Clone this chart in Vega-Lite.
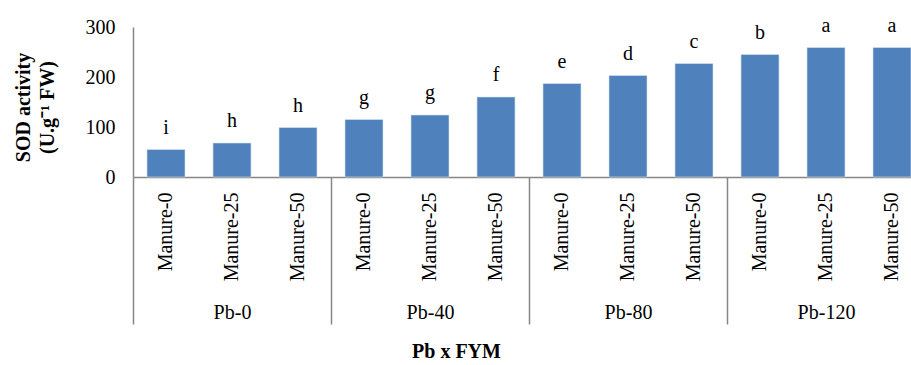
{
  "$schema": "https://vega.github.io/schema/vega-lite/v6.json",
  "width": 778,
  "height": 150,
  "autosize": {"type": "none"},
  "padding": {"left": 133, "top": 27, "right": 0, "bottom": 188},
  "background": "white",
  "config": {"view": {"stroke": null}, "font": "Liberation Serif"},
  "data": {"values": [
    {"pb": "Pb-0", "manure": "Manure-0", "key": "Pb-0|Manure-0", "value": 55, "letter": "i"},
    {"pb": "Pb-0", "manure": "Manure-25", "key": "Pb-0|Manure-25", "value": 68, "letter": "h"},
    {"pb": "Pb-0", "manure": "Manure-50", "key": "Pb-0|Manure-50", "value": 99, "letter": "h"},
    {"pb": "Pb-40", "manure": "Manure-0", "key": "Pb-40|Manure-0", "value": 115, "letter": "g"},
    {"pb": "Pb-40", "manure": "Manure-25", "key": "Pb-40|Manure-25", "value": 124, "letter": "g"},
    {"pb": "Pb-40", "manure": "Manure-50", "key": "Pb-40|Manure-50", "value": 160, "letter": "f"},
    {"pb": "Pb-80", "manure": "Manure-0", "key": "Pb-80|Manure-0", "value": 187, "letter": "e"},
    {"pb": "Pb-80", "manure": "Manure-25", "key": "Pb-80|Manure-25", "value": 203, "letter": "d"},
    {"pb": "Pb-80", "manure": "Manure-50", "key": "Pb-80|Manure-50", "value": 227, "letter": "c"},
    {"pb": "Pb-120", "manure": "Manure-0", "key": "Pb-120|Manure-0", "value": 245, "letter": "b"},
    {"pb": "Pb-120", "manure": "Manure-25", "key": "Pb-120|Manure-25", "value": 259, "letter": "a"},
    {"pb": "Pb-120", "manure": "Manure-50", "key": "Pb-120|Manure-50", "value": 259, "letter": "a"}
  ]},
  "layer": [
    {
      "encoding": {
        "x": {
          "field": "key", "type": "nominal", "sort": null,
          "scale": {"range": [0, 792], "paddingInner": 0.424, "paddingOuter": 0.212},
          "axis": {
            "orient": "bottom",
            "title": null,
            "labelExpr": "split(datum.value, '|')[1]",
            "labelAngle": -90, "labelAlign": "right", "labelBaseline": "middle",
            "labelPadding": 15, "labelFontSize": 20, "labelColor": "#000000",
            "labelFont": "Liberation Serif",
            "ticks": false,
            "domain": true, "domainColor": "#868686", "domainWidth": 1.5,
            "grid": false
          }
        },
        "y": {
          "field": "value", "type": "quantitative",
          "scale": {"domain": [0, 300], "nice": false},
          "axis": {
            "values": [0, 50, 100, 150, 200, 250, 300],
            "title": ["SOD activity", "(U.g⁻¹ FW)"],
            "titleFont": "Liberation Serif", "titleFontSize": 20, "titleFontWeight": "bold",
            "titleColor": "#000000",
            "titleAngle": -90, "titleAlign": "center", "titleBaseline": "top",
            "titleX": -120, "titleY": 80, "titleLineHeight": 24,
            "labelFontSize": 20, "labelColor": "#000000", "labelFont": "Liberation Serif",
            "labelPadding": 18,
            "ticks": false, "grid": false,
            "domain": true, "domainColor": "#868686", "domainWidth": 1.5
          }
        }
      },
      "layer": [
        {"mark": {"type": "bar", "color": "#4F81BD", "stroke": "#dbe4f0", "strokeWidth": 0.6}},
        {
          "mark": {"type": "text", "dy": -22, "baseline": "middle", "align": "center", "fontSize": 20, "font": "Liberation Serif", "color": "#000000"},
          "encoding": {"text": {"field": "letter"}}
        }
      ]
    },
    {
      "mark": {"type": "bar", "opacity": 0},
      "encoding": {
        "x": {
          "field": "pb", "type": "nominal", "sort": null,
          "scale": {"range": [0, 792], "paddingInner": 0, "paddingOuter": 0},
          "axis": {
            "orient": "bottom",
            "title": "Pb x FYM",
            "titleFont": "Liberation Serif", "titleFontSize": 20, "titleFontWeight": "bold",
            "titleColor": "#000000",
            "titleX": 323, "titleY": 174, "titleAlign": "center", "titleBaseline": "middle",
            "labelAngle": 0, "labelAlign": "center", "labelBaseline": "middle",
            "labelFontSize": 20, "labelColor": "#000000", "labelFont": "Liberation Serif",
            "labelPadding": -12,
            "tickBand": "extent", "ticks": true, "tickSize": 147, "tickColor": "#868686", "tickWidth": 1.5,
            "domain": false, "grid": false
          }
        },
        "y": {"field": "value", "type": "quantitative"}
      }
    }
  ],
  "resolve": {"scale": {"x": "independent"}, "axis": {"x": "independent"}}
}
